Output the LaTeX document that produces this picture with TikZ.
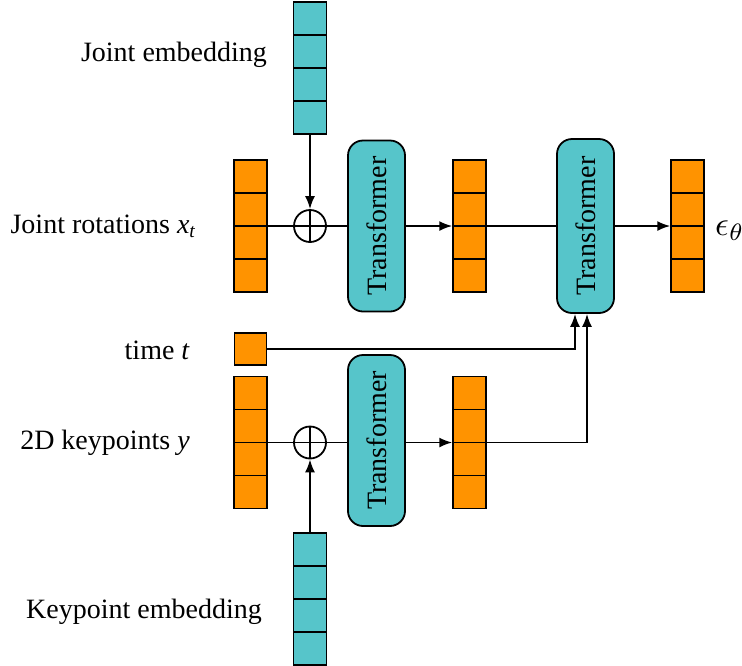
\documentclass[tikz,border=0pt]{standalone}
\usepackage{fontspec}
\setmainfont{Liberation Serif}
\usepackage{xcolor}
\usepackage{tikz}
\usetikzlibrary{positioning, arrows.meta, calc}

\definecolor{embteal}{RGB}{86,197,202}
\definecolor{featorange}{RGB}{255,147,0}

\tikzset{
  vecbox/.style={draw, line width=1.5pt, minimum width=33pt,
                 minimum height=132pt, inner sep=0pt,
                 path picture={
                   \foreach \k in {1,2,3}
                     \draw[line width=1.5pt]
                       ($(path picture bounding box.south west)!\k/4!(path picture bounding box.north west)$)
                       -- ($(path picture bounding box.south east)!\k/4!(path picture bounding box.north east)$);
                 }},
  tfbox/.style={draw, line width=1.8pt, fill=embteal, rounded corners=15pt,
                minimum width=57pt, inner sep=0pt},
  addop/.style={draw, circle, line width=1.8pt, minimum size=32pt, inner sep=0pt,
                path picture={
                  \draw[line width=1.8pt] (path picture bounding box.north) -- (path picture bounding box.south);
                  \draw[line width=1.8pt] (path picture bounding box.west) -- (path picture bounding box.east);
                }},
  lbl/.style={font=\fontsize{28}{33}\selectfont, inner sep=0pt},
  conn/.style={line width=1.8pt},
  arr/.style={conn, -{Latex[length=13pt, width=10pt]}}
}

\begin{document}
\begin{tikzpicture}[x=1pt, y=-1pt]

  \useasboundingbox (0,0) rectangle (742,665);

  %% ── Column positions ───────────────────────────────────────
  \def\xin{250.5}     % input vectors
  \def\xadd{310}      % adders and embeddings
  \def\xtf{376.5}     % first transformers
  \def\xmid{469.5}    % middle vectors
  \def\xtfb{585.5}    % second transformer
  \def\xout{687.5}    % output vector

  %% ── Upper branch (joint rotations) ─────────────────────────
  \def\yrow{226}
  \node[vecbox, fill=embteal] (jemb) at (\xadd, 68) {};
  \node[lbl] (jemblbl) at (174, 55) {Joint embedding};

  \node[vecbox, fill=featorange] (xt) at (\xin, \yrow) {};
  \node[lbl, anchor=east] (xtlbl) at (196, \yrow)
    {Joint rotations \textit{x}\textsubscript{\textit{t}}};

  \node[addop] (add1) at (\xadd, \yrow) {};
  \node[tfbox, minimum height=171pt] (tf1) at (\xtf, \yrow)
    {\rotatebox{90}{\fontsize{28}{32}\selectfont Transformer}};
  \node[vecbox, fill=featorange] (h1) at (\xmid, \yrow) {};
  \node[tfbox, minimum height=174pt] (tf2) at (\xtfb, \yrow)
    {\rotatebox{90}{\fontsize{28}{32}\selectfont Transformer}};
  \node[vecbox, fill=featorange] (out) at (\xout, \yrow) {};
  \node[inner sep=0pt, anchor=west] (outlbl) at (715, 231)
    {\scalebox{3.4}{$\epsilon_\theta$}};

  %% ── Time step ──────────────────────────────────────────────
  \node[draw, line width=1.5pt, fill=featorange, minimum size=32pt,
        inner sep=0pt] (tstep) at (\xin, 349) {};
  \node[lbl, anchor=east] (tlbl) at (190, 350) {time \textit{t}};

  %% ── Lower branch (2D keypoints) ────────────────────────────
  \def\yrow{442.5}
  \node[vecbox, fill=featorange] (kp) at (\xin, \yrow) {};
  \node[lbl, anchor=east] (kplbl) at (190, \yrow) {2D keypoints \textit{y}};

  \node[addop] (add2) at (\xadd, \yrow) {};
  \node[tfbox, minimum height=171pt] (tf3) at (\xtf, 440.5)
    {\rotatebox{90}{\fontsize{28}{32}\selectfont Transformer}};
  \node[vecbox, fill=featorange] (h2) at (\xmid, \yrow) {};

  \node[vecbox, fill=embteal] (kemb) at (\xadd, 599) {};
  \node[lbl] (kemblbl) at (144, 612) {Keypoint embedding};

  %% ── Connectors ─────────────────────────────────────────────
  \draw[arr] (jemb) -- (add1);
  \draw[conn] (xt) -- (add1) -- (add1 -| tf1.west);
  \draw[arr] (tf1.east |- h1) -- (h1);
  \draw[conn] (h1) -- (tf2);
  \draw[arr] (tf2) -- (out);

  \draw[arr] (kemb) -- (add2);
  \draw[conn] (kp) -- (add2) -- (add2 -| tf3.west);
  \draw[arr] (tf3.east |- h2) -- (h2);

  \coordinate (tin) at ([xshift=-10.5pt]tf2.south);
  \coordinate (hin) at ([xshift=1.5pt]tf2.south);
  \draw[arr] (tstep.east) -- (tstep.east -| tin) -- (tin);
  \draw[arr] (h2.east) -- (h2.east -| hin) -- (hin);

\end{tikzpicture}
\end{document}
